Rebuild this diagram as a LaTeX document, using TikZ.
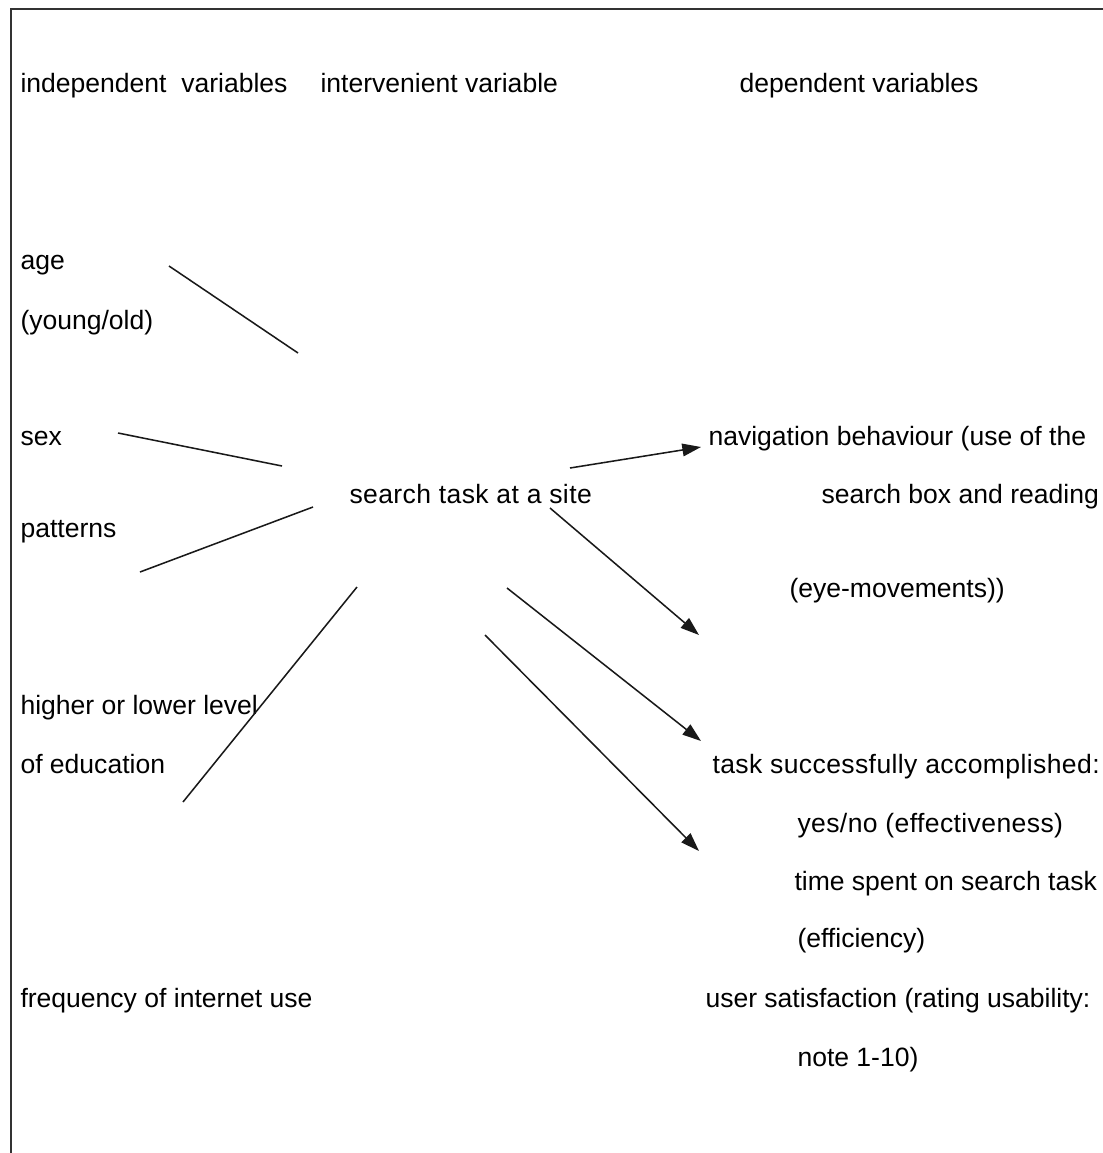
\documentclass[tikz,border=0pt]{standalone}
\usepackage{fontspec}
\setmainfont{Liberation Sans}
\newfontfamily\widefont[LetterSpace=1.5]{Liberation Sans}
\usetikzlibrary{arrows.meta}

\tikzset{every picture/.style={line width=0.75pt}}
\tikzset{
  lbl/.style={anchor=base west,inner sep=0pt,font=\fontsize{19.9}{24}\selectfont},
  widelbl/.style={lbl,font=\widefont\fontsize{19.9}{24}\selectfont},
  link/.style={line width=1.15pt,black!90},
  effect/.style={link,-{Triangle[length=14pt,width=9.5pt]}}
}

\begin{document}
\begin{tikzpicture}[x=0.75pt,y=0.75pt,yscale=-1,xscale=1]
    \useasboundingbox (0,0) rectangle (1103,1153);

    %Frame
    \draw [line width=1.5pt,black!80] (11,1153) -- (11,9) -- (1103,9) ;

    % Text Node
    \node [lbl] (indep) at (20,92) {independent\ \ variables};
    % Text Node
    \node [lbl] (interv) at (320,92) {intervenient variable};
    % Text Node
    \node [lbl] (dep) at (739,92) {dependent variables};
    % Text Node
    \node [lbl] (age) at (20,269) {age};
    % Text Node
    \node [lbl] (youngold) at (20,329) {(young/old)};
    % Text Node
    \node [lbl] (sex) at (20,445) {sex};
    % Text Node
    \node [lbl] (patterns) at (20,537) {patterns};
    % Text Node
    \node [lbl] (educa) at (20,714) {higher or lower level};
    % Text Node
    \node [lbl] (educb) at (20,773) {of education};
    % Text Node
    \node [lbl] (freq) at (20,1007) {frequency of internet use};
    % Text Node
    \node [widelbl] (task) at (349,503) {search task at a site};
    % Text Node
    \node [lbl] (nava) at (708,445) {navigation behaviour (use of the};
    % Text Node
    \node [lbl] (navb) at (821,503) {search box and reading};
    % Text Node
    \node [lbl] (navc) at (789,597) {(eye-movements))};
    % Text Node
    \node [widelbl] (succa) at (712,773) {task successfully accomplished:};
    % Text Node
    \node [widelbl] (succb) at (797,832) {yes/no (effectiveness)};
    % Text Node
    \node [lbl] (timea) at (794,890) {time spent on search task};
    % Text Node
    \node [lbl] (timeb) at (797,947) {(efficiency)};
    % Text Node
    \node [lbl] (sata) at (705,1007) {user satisfaction (rating usability:};
    % Text Node
    \node [lbl] (satb) at (797,1066) {note 1-10)};

    %Line ends
    \coordinate (ageA) at (169,266);
    \coordinate (ageB) at (298,353);
    \coordinate (sexA) at (118,433);
    \coordinate (sexB) at (282,466);
    \coordinate (patA) at (140,572);
    \coordinate (patB) at (313,507);
    \coordinate (eduA) at (183,802);
    \coordinate (eduB) at (357,587);
    \coordinate (navA) at (570,468);
    \coordinate (navB) at (701,447);
    \coordinate (eyeA) at (550,508);
    \coordinate (eyeB) at (699,635);
    \coordinate (succA) at (507,588);
    \coordinate (succB) at (701,741);
    \coordinate (timeA) at (485,635);
    \coordinate (timeB) at (699,851);

    %Straight Lines
    \draw [link] (ageA) -- (ageB) ;
    \draw [link] (sexA) -- (sexB) ;
    \draw [link] (patA) -- (patB) ;
    \draw [link] (eduA) -- (eduB) ;
    %Arrows
    \draw [effect] (navA) -- (navB) ;
    \draw [effect] (eyeA) -- (eyeB) ;
    \draw [effect] (succA) -- (succB) ;
    \draw [effect] (timeA) -- (timeB) ;

\end{tikzpicture}
\end{document}
